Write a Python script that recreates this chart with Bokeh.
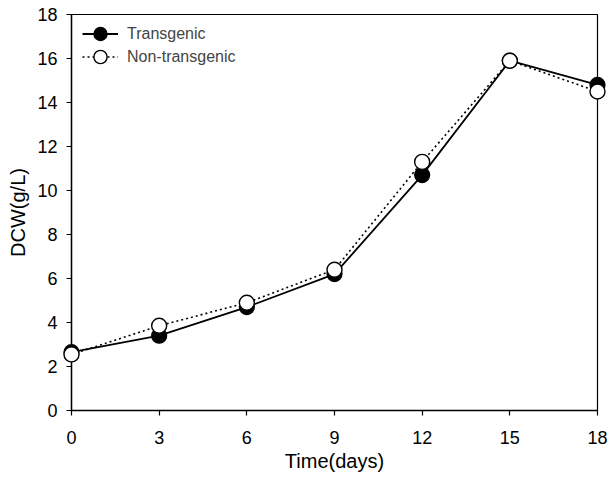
from bokeh.plotting import figure
from bokeh.models import Range1d, FixedTicker, Legend, LegendItem
from bokeh.embed import file_html
from bokeh.resources import INLINE

days = [0, 3, 6, 9, 12, 15, 18]
transgenic = [2.65, 3.4, 4.7, 6.2, 10.7, 15.9, 14.8]
non_transgenic = [2.55, 3.85, 4.9, 6.4, 11.3, 15.9, 14.5]
x_ticks = [0, 3, 6, 9, 12, 15, 18]
y_ticks = [0, 2, 4, 6, 8, 10, 12, 14, 16, 18]

FONT = "Liberation Sans"

p = figure(width=611, height=479, output_backend="svg", toolbar_location=None,
           x_range=Range1d(0, 18), y_range=Range1d(0, 18),
           min_border_left=71, min_border_right=14, min_border_top=14, min_border_bottom=69)
p.xgrid.visible = False
p.ygrid.visible = False
p.outline_line_color = "black"
p.outline_line_width = 1.2

for ax in (p.xaxis[0], p.yaxis[0]):
    ax.axis_line_color = "black"
    ax.axis_line_width = 1.4
    ax.major_tick_out = 5
    ax.major_tick_in = 0
    ax.major_tick_line_width = 1.2
    ax.minor_tick_out = 0
    ax.minor_tick_in = 0
    ax.major_label_text_font = FONT
    ax.major_label_text_font_size = "18px"
    ax.major_label_text_color = "black"
    ax.axis_label_text_font = FONT
    ax.axis_label_text_font_size = "20px"
    ax.axis_label_text_font_style = "normal"
    ax.axis_label_text_color = "black"

p.xaxis.ticker = FixedTicker(ticks=x_ticks)
p.yaxis.ticker = FixedTicker(ticks=y_ticks)
p.xaxis.axis_label = "Time(days)"
p.yaxis.axis_label = "DCW(g/L)"
p.xaxis.axis_label_standoff = 3
p.yaxis.axis_label_standoff = 5
p.xaxis.major_label_standoff = 15
p.yaxis.major_label_standoff = 9

r1l = p.line(days, transgenic, line_color="black", line_width=1.8)
r1m = p.scatter(days, transgenic, size=15, fill_color="black", line_color="black",
                line_width=1.2, level="overlay")
r2l = p.line(days, non_transgenic, line_color="black", line_width=1.6, line_dash="2 3")
r2m = p.scatter(days, non_transgenic, size=15, fill_color="white", line_color="black",
                line_width=1.4, level="overlay")


def make_legend(label, renderers, loc):
    lg = Legend(items=[LegendItem(label=label, renderers=renderers)], location=loc)
    lg.border_line_alpha = 0
    lg.background_fill_alpha = 0
    lg.label_text_font = FONT
    lg.label_text_font_size = "16px"
    lg.glyph_width = 36
    lg.glyph_height = 33
    lg.padding = 0
    lg.margin = 0
    lg.label_standoff = 9
    return lg


p.add_layout(make_legend("Transgenic", [r1l, r1m], (11, 360)))
p.add_layout(make_legend("Non-transgenic", [r2l, r2m], (11, 337)))

open("out.html", "w").write(file_html(p, INLINE))
